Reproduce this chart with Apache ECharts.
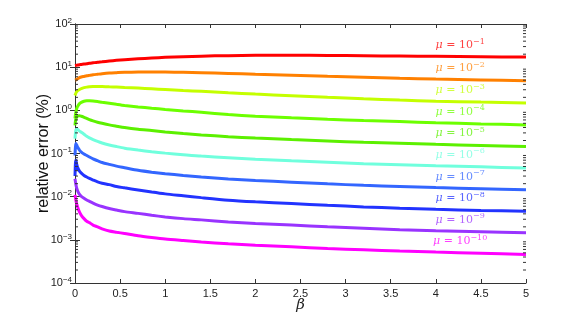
<!DOCTYPE html>
<html><head><meta charset="utf-8">
<script src="https://cdn.jsdelivr.net/npm/echarts@6/dist/echarts.min.js"></script>
<style>html,body{margin:0;padding:0;background:#fff}#c{width:581px;height:319px}</style>
</head><body><div id="c"></div>
<script>
const beta = [0, 0.005, 0.01, 0.02, 0.03, 0.05, 0.07, 0.1, 0.13, 0.16, 0.2, 0.25, 0.3, 0.38, 0.46, 0.55, 0.7, 0.85, 1.0, 1.2, 1.4, 1.7, 2.0, 2.4, 2.8, 3.2, 3.6, 4.0, 4.5, 5];
const mu1  = [10.9, 10.95, 11.0, 11.1, 11.2, 11.4, 11.55, 11.8, 12.0, 12.3, 12.6, 13.0, 13.3, 13.9, 14.4, 14.9, 15.6, 16.3, 16.9, 17.5, 18.0, 18.5, 18.8, 18.9, 18.7, 18.4, 18.1, 17.8, 17.4, 17.1];
const mu2  = [5.0, 5.05, 5.1, 5.25, 5.4, 5.7, 5.9, 6.1, 6.3, 6.45, 6.65, 6.85, 7.05, 7.3, 7.45, 7.6, 7.7, 7.75, 7.7, 7.6, 7.45, 7.15, 6.85, 6.5, 6.15, 5.85, 5.55, 5.3, 5.05, 4.84];
const mu3  = [2.2, 2.35, 2.5, 2.7, 2.85, 3.05, 3.2, 3.35, 3.45, 3.5, 3.55, 3.57, 3.55, 3.5, 3.45, 3.38, 3.27, 3.15, 3.03, 2.88, 2.75, 2.55, 2.38, 2.18, 2.0, 1.85, 1.73, 1.63, 1.55, 1.48];
const mu4  = [0.65, 0.8, 0.93, 1.12, 1.25, 1.43, 1.53, 1.62, 1.66, 1.67, 1.65, 1.6, 1.54, 1.46, 1.38, 1.3, 1.2, 1.12, 1.05, 0.97, 0.9, 0.8, 0.73, 0.67, 0.62, 0.58, 0.55, 0.515, 0.485, 0.46];
const mu5  = [0.45, 0.56, 0.63, 0.7, 0.74, 0.75, 0.73, 0.69, 0.65, 0.61, 0.57, 0.53, 0.5, 0.46, 0.43, 0.4, 0.365, 0.34, 0.315, 0.29, 0.27, 0.245, 0.228, 0.21, 0.195, 0.182, 0.172, 0.163, 0.154, 0.145];
const mu6  = [0.22, 0.3, 0.35, 0.37, 0.36, 0.33, 0.31, 0.28, 0.25, 0.23, 0.21, 0.19, 0.175, 0.158, 0.145, 0.133, 0.12, 0.11, 0.102, 0.094, 0.087, 0.08, 0.074, 0.068, 0.063, 0.058, 0.055, 0.052, 0.049, 0.046];
const mu7  = [0.09, 0.14, 0.17, 0.155, 0.14, 0.12, 0.108, 0.097, 0.09, 0.083, 0.075, 0.068, 0.062, 0.056, 0.051, 0.047, 0.041, 0.037, 0.034, 0.031, 0.0285, 0.0258, 0.0237, 0.0217, 0.0198, 0.0183, 0.0172, 0.0162, 0.0153, 0.0145];
const mu8  = [0.03, 0.06, 0.07, 0.055, 0.047, 0.039, 0.035, 0.031, 0.0285, 0.0265, 0.0243, 0.022, 0.0205, 0.019, 0.0172, 0.016, 0.0143, 0.0128, 0.0116, 0.0105, 0.0095, 0.0083, 0.0076, 0.0069, 0.0063, 0.0058, 0.0054, 0.0051, 0.0048, 0.0046];
const mu9  = [0.026, 0.022, 0.019, 0.0155, 0.0135, 0.0113, 0.0102, 0.0092, 0.0084, 0.0078, 0.0071, 0.0064, 0.0059, 0.0053, 0.0049, 0.0045, 0.0041, 0.0037, 0.0034, 0.0031, 0.0029, 0.0026, 0.0024, 0.0022, 0.002, 0.00185, 0.00172, 0.00163, 0.00154, 0.00145];
const mu10 = [0.011, 0.0095, 0.0082, 0.0066, 0.0057, 0.0044, 0.0037, 0.0031, 0.0027, 0.0025, 0.0022, 0.002, 0.0018, 0.0016, 0.0015, 0.0014, 0.00124, 0.00113, 0.00104, 0.00096, 0.00089, 0.00081, 0.00075, 0.00069, 0.00063, 0.00059, 0.00055, 0.00052, 0.00049, 0.00046];
const seriesValues = [mu1, mu2, mu3, mu4, mu5, mu6, mu7, mu8, mu9, mu10];
const muExponents = ['−1', '−2', '−3', '−4', '−5', '−6', '−7', '−8', '−9', '−10'];
const colors = ['#ff0000', '#ff8000', '#c4ff00', '#6cff00', '#5cf000', '#70ffdd', '#3366ff', '#2233ff', '#9933ff', '#ff00ff'];
const yTickExps = [-4, -3, -2, -1, 0, 1, 2];
const xTicks = ['0', '0.5', '1', '1.5', '2', '2.5', '3', '3.5', '4', '4.5', '5'];
const labelBeta = 4.27;

function interpLog(xs, ys, x) {
  for (let i = 0; i < xs.length - 1; i++) {
    if (x >= xs[i] && x <= xs[i + 1]) {
      const t = (x - xs[i]) / (xs[i + 1] - xs[i]);
      return Math.pow(10, Math.log10(ys[i]) * (1 - t) + Math.log10(ys[i + 1]) * t);
    }
  }
  return ys[ys.length - 1];
}

const minorVals = [];
for (let k = -4; k < 2; k++) for (let m = 2; m <= 9; m++) minorVals.push([0, m * Math.pow(10, k)]);

const axisColor = '#333';
const series = seriesValues.map((vals, i) => ({
  type: 'line',
  data: beta.map((b, j) => [b, vals[j]]),
  showSymbol: false,
  smooth: 0.25,
  lineStyle: { width: 3, color: colors[i] },
  itemStyle: { color: colors[i] },
  z: 3,
  markPoint: {
    symbol: 'circle', symbolSize: 0,
    label: {
      show: true, position: 'top', distance: 4,
      formatter: '{m|μ}{t| = 10}{s|' + muExponents[i] + '}',
      rich: {
        m: { fontFamily: 'DejaVu Serif', fontStyle: 'italic', fontSize: 11, color: colors[i] },
        t: { fontFamily: 'DejaVu Serif', fontSize: 11, color: colors[i] },
        s: { fontFamily: 'DejaVu Serif', fontSize: 8, color: colors[i], padding: [0, 0, 7, 0] }
      },
      opacity: 0.75
    },
    data: [{ coord: [labelBeta, interpLog(beta, vals, labelBeta)] }]
  }
}));

series.push({
  type: 'custom',
  data: minorVals,
  silent: true,
  z: 5,
  renderItem: function (params, api) {
    const v = api.value(1);
    const l = api.coord([0, v]);
    const r = api.coord([5, v]);
    const style = { stroke: axisColor, lineWidth: 1 };
    return { type: 'group', children: [
      { type: 'line', shape: { x1: l[0], y1: l[1], x2: l[0] + 3, y2: l[1] }, style },
      { type: 'line', shape: { x1: r[0], y1: r[1], x2: r[0] - 3, y2: r[1] }, style }
    ]};
  }
});

const chart = echarts.init(document.getElementById('c'), null, { renderer: 'canvas' });
const yLabelFmt = function (v) {
  const e = Math.round(Math.log10(v));
  return '{b|10}{s|' + (e < 0 ? '−' + (-e) : e) + '}';
};
chart.setOption({
  animation: false,
  backgroundColor: '#fff',
  grid: { left: 75, right: 55, top: 24, bottom: 36 },
  xAxis: [{
    type: 'value', min: 0, max: 5, interval: 0.5, position: 'bottom',
    name: 'β', nameLocation: 'middle', nameGap: 15, nameMoveOverlap: false,
    nameTextStyle: { fontFamily: 'DejaVu Serif', fontStyle: 'italic', fontSize: 15, color: '#222' },
    axisLine: { show: true, lineStyle: { color: axisColor, width: 1 } },
    axisTick: { show: true, inside: true, length: 4, lineStyle: { color: axisColor } },
    axisLabel: { fontFamily: 'Liberation Sans', fontSize: 11, color: '#222', margin: 5,
      formatter: v => xTicks[Math.round(v * 2)] },
    splitLine: { show: false }
  }, {
    type: 'value', min: 0, max: 5, interval: 0.5, position: 'top',
    axisLine: { show: true, lineStyle: { color: axisColor, width: 1 } },
    axisTick: { show: true, inside: true, length: 4, lineStyle: { color: axisColor } },
    axisLabel: { show: false }, splitLine: { show: false }
  }],
  yAxis: [{
    type: 'log', logBase: 10, min: Math.pow(10, yTickExps[0]), max: Math.pow(10, yTickExps[yTickExps.length - 1]),
    position: 'left',
    name: 'relative error (%)', nameLocation: 'middle', nameGap: 23, nameRotate: 90, nameMoveOverlap: false,
    nameTextStyle: { fontFamily: 'Liberation Sans', fontSize: 16, color: '#111' },
    axisLine: { show: true, lineStyle: { color: axisColor, width: 1 } },
    axisTick: { show: true, inside: true, length: 5, lineStyle: { color: axisColor } },
    axisLabel: { fontFamily: 'Liberation Sans', fontSize: 11, color: '#222', margin: 3, formatter: yLabelFmt,
      rich: { b: { fontSize: 11, fontFamily: 'Liberation Sans', color: '#222' },
              s: { fontSize: 8, fontFamily: 'Liberation Sans', color: '#222', padding: [0, 0, 7, 0] } } },
    splitLine: { show: false }
  }, {
    type: 'log', logBase: 10, min: Math.pow(10, yTickExps[0]), max: Math.pow(10, yTickExps[yTickExps.length - 1]),
    position: 'right',
    axisLine: { show: true, lineStyle: { color: axisColor, width: 1 } },
    axisTick: { show: true, inside: true, length: 5, lineStyle: { color: axisColor } },
    axisLabel: { show: false }, splitLine: { show: false }
  }],
  series: series
});
</script></body></html>
